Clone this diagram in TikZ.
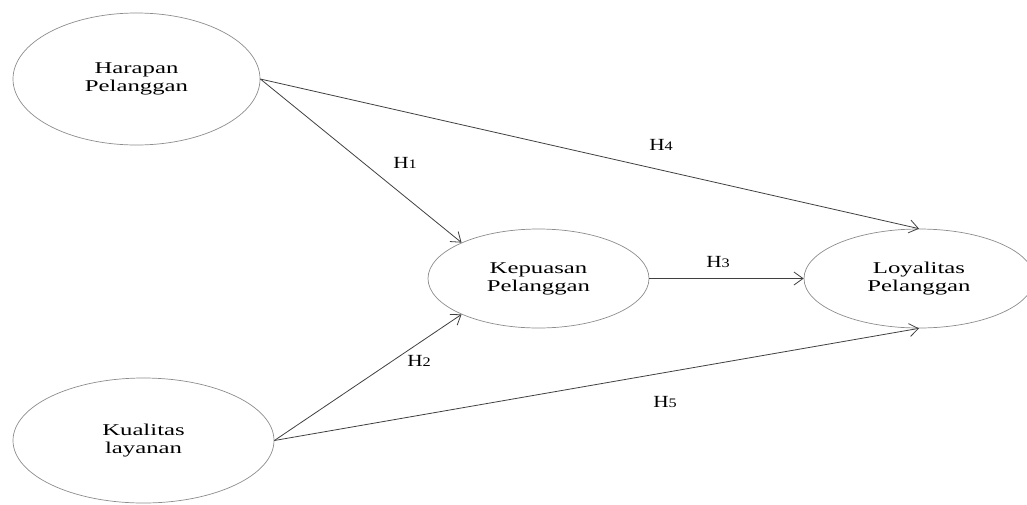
\documentclass[tikz,border=0pt]{standalone}
\usepackage{fontspec}
\setmainfont{Liberation Serif}[FakeStretch=1.5]
\newfontfamily\labfont{Liberation Serif}[FakeStretch=1.25]
\usetikzlibrary{shapes.geometric,arrows.meta}
\newcommand\hsubdigit[1]{{\fontsize{13}{15}\selectfont #1}}
\begin{document}
\begin{tikzpicture}[x=1pt,y=-1pt,
  var/.style={ellipse, draw=black!45, line width=0.7pt, inner sep=0pt, align=center,
    font=\fontsize{16.5}{18}\selectfont},
  hpath/.style={draw=black!75, line width=0.8pt, -{Straight Barb[length=9pt,width=13pt]}},
  hlab/.style={font=\labfont\fontsize{17}{19}\selectfont}]
\useasboundingbox (0,0) rectangle (1027,504);
\node[var, minimum width=247pt, minimum height=132pt] (har) at (136.5,79) {Harapan\\Pelanggan};
\node[var, minimum width=261pt, minimum height=125pt] (kua) at (143.5,440.5) {Kualitas\\layanan};
\node[var, minimum width=221pt, minimum height=99pt] (kep) at (538.5,278.5) {Kepuasan\\Pelanggan};
\node[var, minimum width=230pt, minimum height=99pt] (loy) at (919,278.5) {Loyalitas\\Pelanggan};
\draw[hpath] (har.east) -- (kep.155);
\draw[hpath] (har.east) -- (loy.north);
\draw[hpath] (kep.east) -- (loy.west);
\draw[hpath] (kua.east) -- (kep.-155);
\draw[hpath] (kua.east) -- (loy.south);
\node[hlab] (h1) at (405,163) {H\hsubdigit{1}};
\node[hlab] (h4) at (661,145) {H\hsubdigit{4}};
\node[hlab] (h3) at (718,262) {H\hsubdigit{3}};
\node[hlab] (h2) at (419,361) {H\hsubdigit{2}};
\node[hlab] (h5) at (665,402) {H\hsubdigit{5}};
\end{tikzpicture}
\end{document}
